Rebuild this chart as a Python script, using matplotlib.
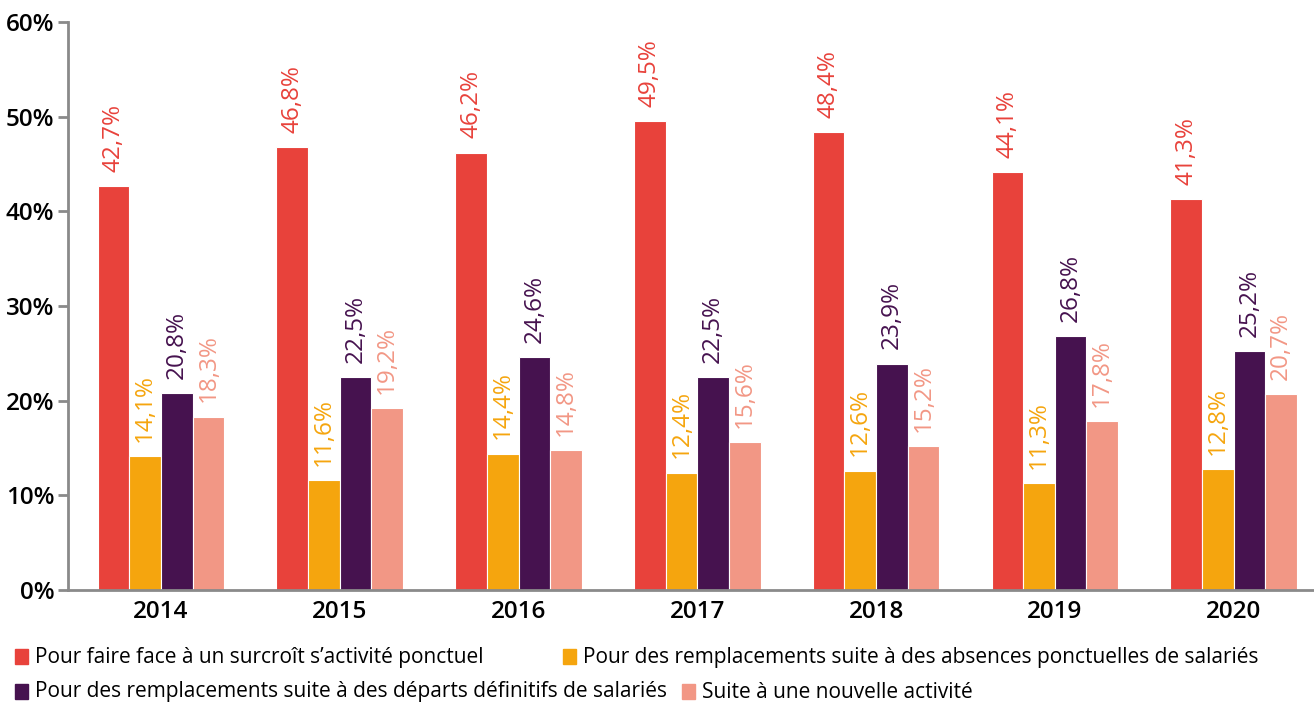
import matplotlib.pyplot as plt
import numpy as np
from matplotlib.patches import Rectangle

plt.rcParams['font.family'] = ['Open Sans', 'DejaVu Sans']

years = ["2014", "2015", "2016", "2017", "2018", "2019", "2020"]
surcroit = [42.7, 46.8, 46.2, 49.5, 48.4, 44.1, 41.3]
absences = [14.1, 11.6, 14.4, 12.4, 12.6, 11.3, 12.8]
departs = [20.8, 22.5, 24.6, 22.5, 23.9, 26.8, 25.2]
nouvelle = [18.3, 19.2, 14.8, 15.6, 15.2, 17.8, 20.7]
labels = ["Pour faire face à un surcroît s’activité ponctuel",
          "Pour des remplacements suite à des absences ponctuelles de salariés",
          "Pour des remplacements suite à des départs définitifs de salariés",
          "Suite à une nouvelle activité"]
colors = ["#E8423B", "#F5A50E", "#46124F", "#F29785"]

series = [surcroit, absences, departs, nouvelle]

fig = plt.figure(figsize=(13.14, 7.09), dpi=100)
ax = fig.add_axes([0.0518, 0.168, 0.9482, 0.801])

x = np.arange(len(years))
w = 0.177
for i, (vals, c) in enumerate(zip(series, colors)):
    pos = x + (i - 1.5) * w
    ax.bar(pos, vals, w, color=c, edgecolor="white", linewidth=0.8)
    for p, v in zip(pos, vals):
        ax.text(p, v + 1.5, f"{v:.1f}%".replace(".", ","), rotation=90,
                ha="center", va="bottom", color=c, fontsize=17.5, fontweight="medium")

ax.set_xlim(-0.52, 6.45)
ax.set_ylim(0, 60)
ax.set_yticks(range(0, 61, 10))
ax.set_yticklabels([f"{t}%" for t in range(0, 61, 10)], fontsize=17.5, fontweight="semibold")
ax.set_xticks(x)
ax.set_xticklabels(years, fontsize=17.5, fontweight="semibold")
ax.tick_params(axis="x", length=0, pad=7)
ax.tick_params(axis="y", length=7, width=2, color="#8a8a8a", pad=3)
for s in ["top", "right"]:
    ax.spines[s].set_visible(False)
for s in ["left", "bottom"]:
    ax.spines[s].set_color("#8a8a8a")
    ax.spines[s].set_linewidth(2)

# legend, placed by hand
leg_pos = [(15, 657), (563, 657), (15, 692), (682, 692)]
for (px, py), lab, c in zip(leg_pos, labels, colors):
    fig.patches.append(Rectangle((px / 1314, 1 - (py + 7) / 709), 13 / 1314, 15 / 709,
                                 transform=fig.transFigure, color=c))
    fig.text((px + 20) / 1314, 1 - py / 709, lab, fontsize=15, va="center", ha="left")

fig.savefig("out.png", dpi=100)
